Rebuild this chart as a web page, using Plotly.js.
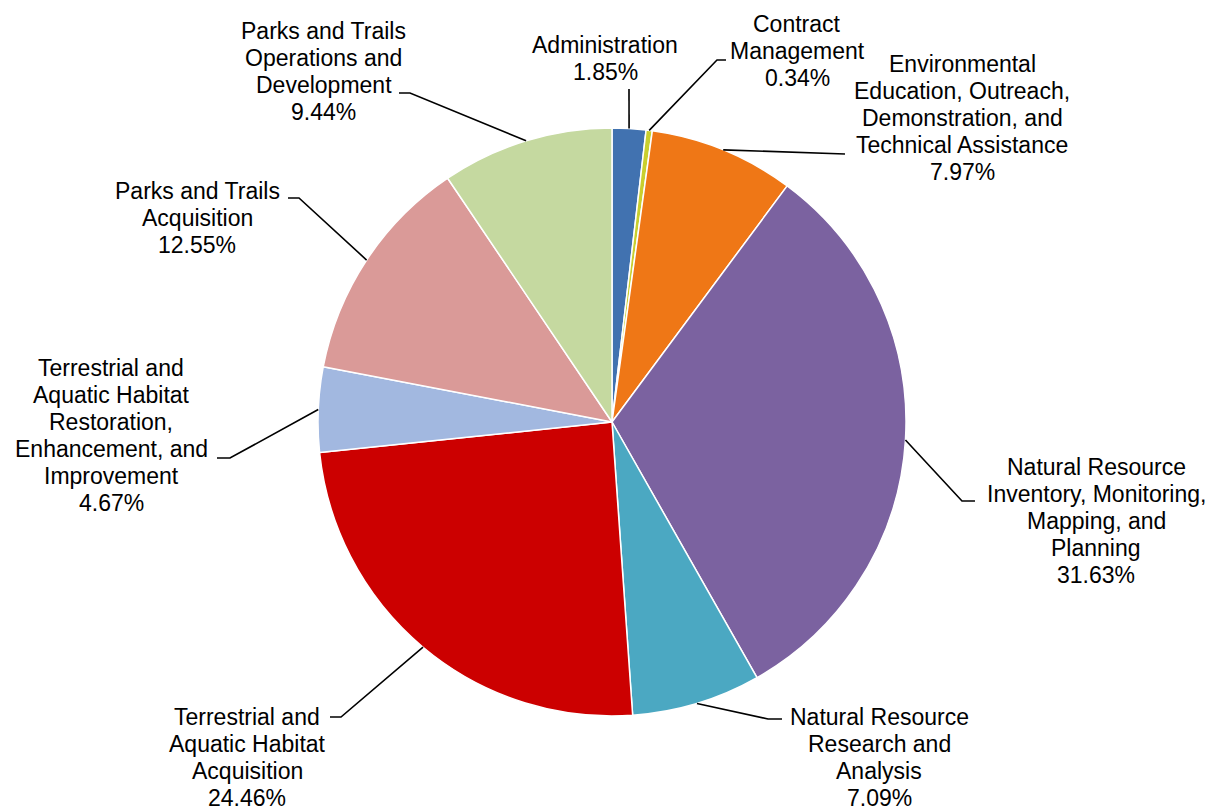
<!DOCTYPE html>
<html>
<head>
<meta charset="utf-8">
<script src="https://cdn.plot.ly/plotly-3.0.1.min.js"></script>
<style>
  html, body { margin: 0; padding: 0; background: #ffffff; }
  #chart { width: 1220px; height: 806px; }
</style>
</head>
<body>
<div id="chart"></div>
<script>
// ---- Data ----
const categories = [
  'Administration',
  'Contract Management',
  'Environmental Education, Outreach, Demonstration, and Technical Assistance',
  'Natural Resource Inventory, Monitoring, Mapping, and Planning',
  'Natural Resource Research and Analysis',
  'Terrestrial and Aquatic Habitat Acquisition',
  'Terrestrial and Aquatic Habitat Restoration, Enhancement, and Improvement',
  'Parks and Trails Acquisition',
  'Parks and Trails Operations and Development'
];
const shares = [1.85, 0.34, 7.97, 31.63, 7.09, 24.46, 4.67, 12.55, 9.44];
const labelLines = [
  ['Administration'],
  ['Contract', 'Management'],
  ['Environmental', 'Education, Outreach,', 'Demonstration, and', 'Technical Assistance'],
  ['Natural Resource', 'Inventory, Monitoring,', 'Mapping, and', 'Planning'],
  ['Natural Resource', 'Research and', 'Analysis'],
  ['Terrestrial and', 'Aquatic Habitat', 'Acquisition'],
  ['Terrestrial and', 'Aquatic Habitat', 'Restoration,', 'Enhancement, and', 'Improvement'],
  ['Parks and Trails', 'Acquisition'],
  ['Parks and Trails', 'Operations and', 'Development']
];

// ---- Styling / layout ----
const colors = ['#4172B0', '#C9CF2E', '#EF7716', '#7B62A0', '#4BA8C2',
                '#CC0000', '#A2B8E0', '#DA9A98', '#C5D9A0'];
const W = 1220, H = 806;
const domainX = [318 / W, 906 / W];
const domainY = [(H - 716) / H, (H - 128) / H];
const FONT = 'Liberation Sans, Arial, sans-serif';
const FS = 23, LH = 27;

// text block placement (pixel: center x, first line center y) and leader path points
const labelPos = [
  {x: 605, y: 45,  path: [[629, 89]]},
  {x: 797, y: 24,  path: [[717, 60], [726, 60]]},
  {x: 962, y: 64,  path: [[845, 154]]},
  {x: 1096, y: 467, path: [[962, 501], [975, 501]]},
  {x: 879, y: 717, path: [[768, 719], [782, 719]]},
  {x: 247, y: 717, path: [[341, 717], [330, 717]]},
  {x: 111, y: 368, path: [[230, 458], [217, 458]]},
  {x: 197, y: 191, path: [[299, 198], [288, 198]]},
  {x: 324, y: 31,  path: [[410, 93], [399, 93]]}
];

const cx = (domainX[0] + domainX[1]) / 2 * W;
const cy = H - (domainY[0] + domainY[1]) / 2 * H;
const R = (domainX[1] - domainX[0]) * W / 2;
const total = shares.reduce((a, b) => a + b, 0);

const annotations = [];
const shapes = [];
let cum = 0;
shares.forEach((v, i) => {
  const theta = 2 * Math.PI * (cum + v / 2) / total;
  cum += v;
  const ax = cx + R * Math.sin(theta);
  const ay = cy - R * Math.cos(theta);
  const pts = [[ax, ay]].concat(labelPos[i].path);
  const d = pts.map((p, k) => (k ? 'L' : 'M') + (p[0] / W).toFixed(5) + ',' + (1 - p[1] / H).toFixed(5)).join(' ');
  shapes.push({type: 'path', xref: 'paper', yref: 'paper', path: d,
               line: {color: '#000000', width: 1.6}});
  const lines = labelLines[i].concat([v.toFixed(2) + '%']);
  lines.forEach((t, k) => {
    annotations.push({
      xref: 'paper', yref: 'paper',
      x: labelPos[i].x / W, y: 1 - (labelPos[i].y + k * LH) / H,
      xanchor: 'center', yanchor: 'middle',
      text: t, showarrow: false,
      font: {family: FONT, size: FS, color: '#000000'}
    });
  });
});

const trace = {
  type: 'pie',
  labels: categories,
  values: shares,
  sort: false,
  direction: 'clockwise',
  rotation: 0,
  textinfo: 'none',
  hoverinfo: 'skip',
  domain: {x: domainX, y: domainY},
  marker: {colors: colors, line: {color: '#ffffff', width: 1.5}},
  showlegend: false
};

const layout = {
  width: W, height: H,
  margin: {l: 0, r: 0, t: 0, b: 0},
  paper_bgcolor: '#ffffff',
  plot_bgcolor: '#ffffff',
  showlegend: false,
  annotations: annotations,
  shapes: shapes,
  font: {family: FONT}
};

Plotly.newPlot('chart', [trace], layout, {staticPlot: true, displayModeBar: false});
</script>
</body>
</html>
